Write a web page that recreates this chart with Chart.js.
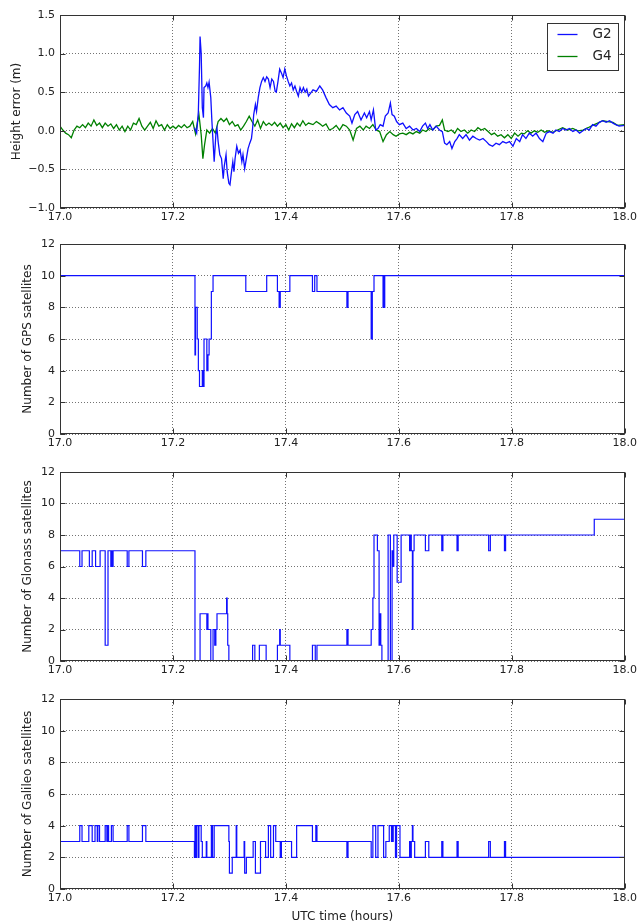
<!DOCTYPE html>
<html>
<head>
<meta charset="utf-8">
<title>Height error and satellite count</title>
<script src="https://cdn.jsdelivr.net/npm/chart.js@4.4.1/dist/chart.umd.min.js"></script>
<style>
  body { margin: 0; background: #fff; }
  .panel { position: absolute; left: 0; }
</style>
</head>
<body>
<div class="panel" style="top:0px"><canvas id="heightChart" width="640" height="230"></canvas></div>
<div class="panel" style="top:230px"><canvas id="gpsChart" width="640" height="230"></canvas></div>
<div class="panel" style="top:460px"><canvas id="glonassChart" width="640" height="225"></canvas></div>
<div class="panel" style="top:685px"><canvas id="galileoChart" width="640" height="239"></canvas></div>
<script>
// tick labels
const xTicks = [17.0, 17.2, 17.4, 17.6, 17.8, 18.0];
const heightTicks = [-1.0, -0.5, 0.0, 0.5, 1.0, 1.5];
const countTicks = [0, 2, 4, 6, 8, 10, 12];

// height error, G2 (m)
const g2Time = [17.238, 17.242, 17.245, 17.247, 17.248, 17.250, 17.252, 17.254, 17.255, 17.258, 17.260, 17.262, 17.264, 17.267, 17.269, 17.271, 17.273, 17.276, 17.278, 17.280,
  17.283, 17.286, 17.289, 17.291, 17.294, 17.296, 17.299, 17.301, 17.303, 17.306, 17.308, 17.310, 17.313, 17.316, 17.319, 17.322, 17.324, 17.327, 17.330, 17.333,
  17.336, 17.339, 17.341, 17.343, 17.346, 17.348, 17.351, 17.354, 17.357, 17.360, 17.363, 17.366, 17.369, 17.372, 17.375, 17.378, 17.381, 17.383, 17.386, 17.389,
  17.392, 17.395, 17.398, 17.401, 17.404, 17.407, 17.410, 17.413, 17.416, 17.419, 17.422, 17.425, 17.428, 17.431, 17.434, 17.437, 17.440, 17.448, 17.454, 17.460,
  17.465, 17.471, 17.477, 17.483, 17.489, 17.495, 17.501, 17.507, 17.513, 17.517, 17.522, 17.527, 17.533, 17.539, 17.543, 17.548, 17.551, 17.555, 17.559, 17.563,
  17.567, 17.572, 17.576, 17.581, 17.585, 17.588, 17.592, 17.596, 17.601, 17.607, 17.613, 17.619, 17.625, 17.631, 17.637, 17.642, 17.647, 17.651, 17.655, 17.660,
  17.666, 17.672, 17.677, 17.681, 17.685, 17.690, 17.694, 17.699, 17.703, 17.707, 17.713, 17.719, 17.725, 17.731, 17.737, 17.743, 17.749, 17.755, 17.760, 17.766,
  17.772, 17.778, 17.784, 17.790, 17.796, 17.802, 17.808, 17.814, 17.819, 17.825, 17.831, 17.837, 17.843, 17.849, 17.855, 17.861, 17.867, 17.873, 17.878, 17.884,
  17.890, 17.896, 17.902, 17.908, 17.914, 17.920, 17.926, 17.932, 17.937, 17.943, 17.949, 17.955, 17.961, 17.967, 17.973, 17.979, 17.984, 17.990, 18.000];
const g2Height = [0.04, -0.03, 0.25, 0.83, 1.22, 1.00, 0.30, 0.17, 0.56, 0.58, 0.62, 0.56, 0.63, 0.43, 0.12, -0.14, -0.40, -0.05, 0.03, -0.14,
  -0.31, -0.36, -0.62, -0.45, -0.31, -0.53, -0.68, -0.70, -0.57, -0.40, -0.53, -0.36, -0.20, -0.29, -0.25, -0.40, -0.31, -0.49, -0.36, -0.23,
  -0.16, -0.10, 0.03, 0.21, 0.34, 0.25, 0.43, 0.56, 0.64, 0.69, 0.64, 0.70, 0.67, 0.56, 0.67, 0.64, 0.51, 0.50, 0.64, 0.80,
  0.75, 0.69, 0.80, 0.71, 0.64, 0.58, 0.62, 0.53, 0.58, 0.51, 0.45, 0.56, 0.50, 0.56, 0.50, 0.54, 0.45, 0.53, 0.51, 0.58,
  0.53, 0.43, 0.34, 0.30, 0.32, 0.27, 0.30, 0.23, 0.19, 0.10, 0.21, 0.25, 0.14, 0.23, 0.17, 0.25, 0.14, 0.27, 0.01, 0.03,
  0.08, 0.06, 0.19, 0.23, 0.36, 0.21, 0.19, 0.12, 0.08, 0.10, 0.03, 0.06, 0.01, 0.03, -0.01, 0.06, 0.10, 0.03, 0.08, 0.01,
  0.06, 0.01, -0.01, -0.16, -0.18, -0.14, -0.23, -0.14, -0.10, -0.05, -0.10, -0.05, -0.12, -0.07, -0.10, -0.12, -0.10, -0.14, -0.18, -0.20,
  -0.16, -0.18, -0.14, -0.16, -0.14, -0.20, -0.10, -0.14, -0.05, -0.10, -0.03, -0.07, -0.03, -0.10, -0.14, -0.03, -0.01, -0.03, 0.01, -0.01,
  0.03, 0.01, 0.03, -0.01, 0.01, -0.03, 0.00, 0.03, 0.01, 0.08, 0.06, 0.11, 0.13, 0.11, 0.13, 0.10, 0.08, 0.06, 0.07];

// height error, G4 (m)
const g4Time = [17.000, 17.005, 17.010, 17.015, 17.020, 17.025, 17.030, 17.035, 17.040, 17.045, 17.050, 17.055, 17.060, 17.065, 17.070, 17.075, 17.080, 17.085, 17.090, 17.095,
  17.100, 17.105, 17.110, 17.115, 17.120, 17.125, 17.130, 17.135, 17.140, 17.145, 17.150, 17.155, 17.160, 17.165, 17.170, 17.175, 17.180, 17.185, 17.190, 17.195,
  17.200, 17.205, 17.210, 17.215, 17.220, 17.225, 17.230, 17.235, 17.240, 17.243, 17.246, 17.250, 17.253, 17.256, 17.260, 17.265, 17.270, 17.275, 17.280, 17.285,
  17.290, 17.295, 17.300, 17.305, 17.310, 17.315, 17.320, 17.325, 17.330, 17.335, 17.340, 17.345, 17.350, 17.355, 17.360, 17.365, 17.370, 17.375, 17.380, 17.385,
  17.390, 17.395, 17.400, 17.405, 17.410, 17.415, 17.420, 17.425, 17.430, 17.435, 17.440, 17.448, 17.454, 17.460, 17.465, 17.471, 17.477, 17.483, 17.489, 17.495,
  17.501, 17.507, 17.513, 17.519, 17.525, 17.531, 17.537, 17.542, 17.548, 17.554, 17.560, 17.566, 17.572, 17.578, 17.584, 17.590, 17.595, 17.601, 17.607, 17.613,
  17.619, 17.625, 17.631, 17.637, 17.642, 17.648, 17.654, 17.660, 17.666, 17.672, 17.677, 17.681, 17.687, 17.693, 17.699, 17.704, 17.710, 17.716, 17.722, 17.728,
  17.734, 17.740, 17.746, 17.752, 17.758, 17.764, 17.769, 17.775, 17.781, 17.787, 17.793, 17.799, 17.805, 17.811, 17.817, 17.822, 17.828, 17.834, 17.840, 17.846,
  17.852, 17.858, 17.864, 17.873, 17.881, 17.890, 17.899, 17.908, 17.917, 17.926, 17.935, 17.943, 17.952, 17.961, 17.970, 17.979, 17.987, 18.000];
const g4Height = [0.06, 0.01, -0.03, -0.05, -0.09, 0.01, 0.06, 0.04, 0.08, 0.04, 0.10, 0.06, 0.14, 0.07, 0.10, 0.04, 0.10, 0.06, 0.09, 0.03,
  0.08, 0.01, 0.06, -0.01, 0.06, 0.01, 0.10, 0.08, 0.16, 0.06, 0.01, 0.06, 0.11, 0.03, 0.13, 0.06, 0.08, 0.01, 0.08, 0.03,
  0.06, 0.03, 0.07, 0.04, 0.08, 0.04, 0.06, 0.12, -0.04, 0.10, 0.21, -0.05, -0.36, -0.18, 0.01, -0.03, 0.03, -0.03, 0.12, 0.16,
  0.12, 0.16, 0.08, 0.12, 0.06, 0.08, 0.01, 0.06, 0.12, 0.19, 0.12, 0.06, 0.14, 0.03, 0.12, 0.07, 0.10, 0.07, 0.11, 0.06,
  0.10, 0.04, 0.08, 0.01, 0.09, 0.04, 0.10, 0.06, 0.13, 0.07, 0.10, 0.08, 0.12, 0.09, 0.06, 0.09, 0.01, 0.03, 0.07, 0.01,
  0.08, 0.06, 0.01, -0.12, 0.03, 0.06, 0.01, 0.06, 0.03, 0.08, 0.01, -0.01, -0.14, -0.05, -0.01, -0.05, -0.07, -0.04, -0.03, -0.05,
  -0.02, -0.04, -0.01, -0.03, 0.01, -0.01, 0.03, 0.01, 0.06, 0.07, 0.14, 0.01, -0.01, 0.01, -0.03, 0.03, -0.01, 0.01, -0.03, 0.01,
  -0.01, 0.04, 0.01, 0.03, -0.01, -0.05, -0.03, -0.07, -0.05, -0.09, -0.05, -0.10, -0.03, -0.07, -0.03, -0.04, 0.00, -0.03, 0.00, -0.02,
  0.01, -0.02, 0.00, -0.02, 0.01, 0.04, 0.01, 0.03, 0.00, 0.01, 0.04, 0.07, 0.10, 0.13, 0.12, 0.11, 0.07, 0.08];

// satellite counts: value holds from each time until the next one
const gpsTime = [17.000, 17.239, 17.240, 17.243, 17.245, 17.247, 17.252, 17.253, 17.255, 17.260, 17.262, 17.264, 17.268, 17.271,
  17.329, 17.366, 17.385, 17.388, 17.390, 17.407, 17.447, 17.451, 17.455, 17.508, 17.510, 17.551, 17.553, 17.556,
  17.572, 17.573, 17.574, 17.575, 18.000];
const gpsCount = [10, 5, 8, 6, 4, 3, 4, 3, 6, 4, 5, 6, 9, 10,
  9, 10, 9, 8, 9, 10, 9, 10, 9, 8, 9, 6, 9, 10,
  8, 10, 8, 10, 10];

const glonassTime = [17.000, 17.035, 17.039, 17.052, 17.057, 17.063, 17.071, 17.080, 17.085, 17.090, 17.092, 17.093, 17.094, 17.119, 17.122, 17.146, 17.152,
  17.239, 17.248, 17.260, 17.261, 17.262, 17.267, 17.271, 17.274, 17.276, 17.278, 17.295, 17.296, 17.297, 17.299,
  17.341, 17.345, 17.353, 17.365, 17.385, 17.389, 17.390, 17.407, 17.447, 17.452, 17.455, 17.508, 17.510,
  17.551, 17.554, 17.556, 17.562, 17.565, 17.566, 17.568, 17.570, 17.581, 17.585, 17.588, 17.590, 17.591, 17.597, 17.604,
  17.619, 17.621, 17.622, 17.624, 17.625, 17.627, 17.647, 17.653, 17.676, 17.678, 17.703, 17.705, 17.759, 17.762, 17.787, 17.789, 17.946, 18.000];
const glonassCount = [7, 6, 7, 6, 7, 6, 7, 1, 7, 6, 7, 6, 7, 6, 7, 6, 7,
  0, 3, 2, 3, 2, 0, 2, 1, 2, 3, 4, 3, 1, 0,
  1, 0, 1, 0, 1, 2, 1, 0, 1, 0, 1, 2, 1,
  2, 4, 8, 7, 1, 3, 1, 0, 8, 0, 7, 6, 8, 5, 8,
  7, 8, 7, 2, 7, 8, 7, 8, 7, 8, 7, 8, 7, 8, 7, 8, 9, 9];

const galileoTime = [17.000, 17.035, 17.039, 17.051, 17.057, 17.062, 17.066, 17.067, 17.070, 17.080, 17.083, 17.084, 17.086, 17.091, 17.094, 17.119, 17.122, 17.146, 17.152,
  17.238, 17.239, 17.241, 17.242, 17.245, 17.246, 17.250, 17.252, 17.259, 17.260, 17.268, 17.270, 17.273, 17.299, 17.300, 17.305, 17.312, 17.313,
  17.326, 17.327, 17.330, 17.342, 17.346, 17.355, 17.364, 17.369, 17.373, 17.378, 17.382, 17.390, 17.392, 17.410, 17.419, 17.447, 17.453, 17.455,
  17.508, 17.510, 17.551, 17.554, 17.559, 17.563, 17.573, 17.577, 17.583, 17.587, 17.588, 17.589, 17.590, 17.594, 17.596, 17.602,
  17.619, 17.621, 17.622, 17.624, 17.625, 17.628, 17.647, 17.653, 17.676, 17.678, 17.703, 17.705, 17.759, 17.762, 17.787, 17.789, 18.000];
const galileoCount = [3, 4, 3, 4, 3, 4, 3, 4, 3, 4, 3, 4, 3, 4, 3, 4, 3, 4, 3,
  2, 4, 2, 4, 2, 4, 3, 2, 3, 2, 4, 2, 4, 3, 1, 2, 4, 2,
  3, 1, 2, 3, 1, 3, 2, 4, 2, 4, 3, 2, 3, 2, 4, 3, 4, 3,
  2, 3, 2, 4, 2, 4, 2, 3, 4, 3, 4, 3, 4, 2, 4, 2,
  3, 2, 3, 4, 3, 2, 3, 2, 3, 2, 3, 2, 3, 2, 3, 2, 2];

const FONT = '"DejaVu Sans", "Liberation Sans", sans-serif';
const BLUE = '#1010ff';
const GREEN = '#008000';

function toPoints(xs, ys) {
  return xs.map((x, i) => ({ x: x, y: ys[i] }));
}

// matplotlib-like box: full frame plus inward ticks on all sides
const framePlugin = {
  id: 'frame',
  afterDraw(chart) {
    const { ctx, chartArea: a, scales } = chart;
    const L = Math.round(a.left) + 0.5, R = Math.round(a.right) - 0.5;
    const T = Math.round(a.top) + 0.5, B = Math.round(a.bottom) - 0.5;
    ctx.save();
    ctx.strokeStyle = '#333';
    ctx.lineWidth = 1;
    ctx.beginPath();
    scales.x.ticks.forEach(t => {
      const px = Math.round(scales.x.getPixelForValue(t.value)) + 0.5;
      ctx.moveTo(px, B); ctx.lineTo(px, B - 5);
      ctx.moveTo(px, T); ctx.lineTo(px, T + 5);
    });
    scales.y.ticks.forEach(t => {
      const py = Math.round(scales.y.getPixelForValue(t.value)) + 0.5;
      ctx.moveTo(L, py); ctx.lineTo(L + 5, py);
      ctx.moveTo(R, py); ctx.lineTo(R - 5, py);
    });
    ctx.stroke();
    ctx.strokeRect(L, T, R - L, B - T);
    ctx.restore();
  }
};

// legend box in the top right corner of the first panel
const cornerLegend = {
  id: 'cornerLegend',
  afterDraw(chart) {
    const { ctx, chartArea: a } = chart;
    const w = 71, h = 47;
    const left = Math.round(a.right - 7 - w) + 0.5, top = Math.round(a.top + 8) + 0.5;
    ctx.save();
    ctx.fillStyle = '#fff';
    ctx.fillRect(left, top, w, h);
    ctx.strokeStyle = '#333';
    ctx.lineWidth = 1;
    ctx.strokeRect(left, top, w, h);
    ctx.font = '13.5px ' + FONT;
    ctx.textBaseline = 'middle';
    chart.data.datasets.forEach((ds, i) => {
      const y = top + 11 + i * 22;
      ctx.strokeStyle = ds.borderColor;
      ctx.lineWidth = 1.3;
      ctx.beginPath();
      ctx.moveTo(left + 10, y);
      ctx.lineTo(left + 30, y);
      ctx.stroke();
      ctx.fillStyle = '#222';
      ctx.fillText(ds.label, left + 45, y);
    });
    ctx.restore();
  }
};

function makeChart(canvasId, datasets, cfg) {
  return new Chart(document.getElementById(canvasId), {
    type: 'line',
    data: { datasets: datasets },
    options: {
      responsive: false,
      animation: false,
      layout: { padding: { top: cfg.padTop, right: 15, left: 0, bottom: 0 } },
      plugins: { legend: { display: false }, tooltip: { enabled: false } },
      elements: { point: { radius: 0 }, line: { tension: 0 } },
      scales: {
        x: {
          type: 'linear',
          min: 17,
          max: 18,
          afterBuildTicks: s => { s.ticks = xTicks.map(v => ({ value: v })); },
          afterFit: s => { s.height = cfg.xHeight; },
          grid: { color: 'rgba(0,0,0,0.55)', lineWidth: 1, drawTicks: false },
          border: { display: false, dash: [1, 2] },
          ticks: {
            padding: 3,
            color: '#222',
            font: { family: FONT, size: 11 },
            maxRotation: 0,
            autoSkip: false,
            callback: v => v.toFixed(1)
          },
          title: {
            display: !!cfg.xTitle,
            text: cfg.xTitle || '',
            color: '#222',
            font: { family: FONT, size: 12 },
            padding: { top: 0, bottom: 0 }
          }
        },
        y: {
          type: 'linear',
          min: cfg.yTicks[0],
          max: cfg.yTicks[cfg.yTicks.length - 1],
          afterBuildTicks: s => { s.ticks = cfg.yTicks.map(v => ({ value: v })); },
          afterFit: s => { s.width = 60; },
          grid: { color: 'rgba(0,0,0,0.55)', lineWidth: 1, drawTicks: false },
          border: { display: false, dash: [1, 2] },
          ticks: {
            padding: 5,
            color: '#222',
            font: { family: FONT, size: 11 },
            autoSkip: false,
            callback: cfg.yFormat
          },
          title: {
            display: true,
            text: cfg.yTitle,
            color: '#222',
            font: { family: FONT, size: 12 },
            padding: { top: cfg.yTitlePad, bottom: 0 }
          }
        }
      }
    },
    plugins: [framePlugin].concat(cfg.extra || [])
  });
}

const heightFormat = v => (v < 0 ? '\u2212' : '') + Math.abs(v).toFixed(1);
const countFormat = v => String(v);

makeChart('heightChart', [
  { label: 'G2', data: toPoints(g2Time, g2Height), borderColor: BLUE, borderWidth: 1.3, fill: false },
  { label: 'G4', data: toPoints(g4Time, g4Height), borderColor: GREEN, borderWidth: 1.3, fill: false }
], { padTop: 15, xHeight: 22, yTicks: heightTicks, yFormat: heightFormat, yTitle: 'Height error (m)', yTitlePad: 10, extra: [cornerLegend] });

makeChart('gpsChart', [
  { label: 'GPS', data: toPoints(gpsTime, gpsCount), borderColor: BLUE, borderWidth: 1.2, stepped: true, fill: false }
], { padTop: 14, xHeight: 26, yTicks: countTicks, yFormat: countFormat, yTitle: 'Number of GPS satellites', yTitlePad: 21 });

makeChart('glonassChart', [
  { label: 'Glonass', data: toPoints(glonassTime, glonassCount), borderColor: BLUE, borderWidth: 1.2, stepped: true, fill: false }
], { padTop: 12, xHeight: 24, yTicks: countTicks, yFormat: countFormat, yTitle: 'Number of Glonass satellites', yTitlePad: 21 });

makeChart('galileoChart', [
  { label: 'Galileo', data: toPoints(galileoTime, galileoCount), borderColor: BLUE, borderWidth: 1.2, stepped: true, fill: false }
], { padTop: 14, xHeight: 35, yTicks: countTicks, yFormat: countFormat, yTitle: 'Number of Galileo satellites', yTitlePad: 21, xTitle: 'UTC time (hours)' });
</script>
</body>
</html>
